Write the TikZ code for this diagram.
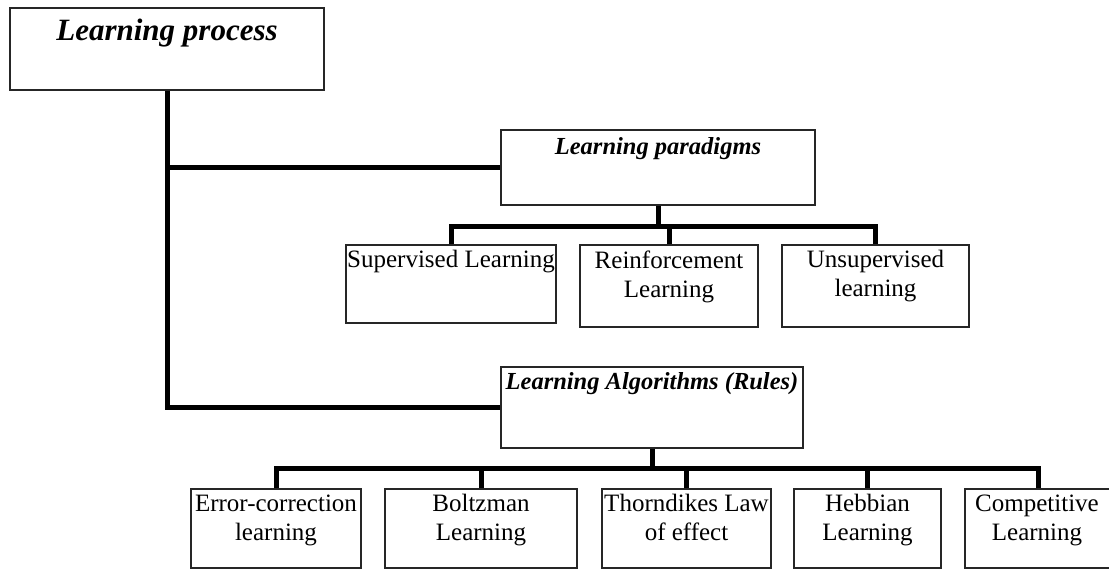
\documentclass[tikz,border=0pt]{standalone}
\usepackage{fontspec}
\setmainfont{Liberation Serif}
\begin{document}
\begin{tikzpicture}[x=1pt,y=-1pt,
  box/.style={draw=black!85, line width=1.5pt, inner sep=0pt, fill=white},
  link/.style={draw=black, line width=5pt},
  lbl/.style={anchor=north, inner sep=0pt, align=center,
    font=\fontsize{25}{29}\selectfont},
  head/.style={anchor=north, inner sep=0pt, align=center,
    font=\fontsize{24.5}{29}\selectfont\bfseries\itshape}]
\useasboundingbox (0,0) rectangle (1109,570);

% root
\node[box, minimum width=314pt, minimum height=82pt] (proc) at (167,49) {};
\node[head, font=\fontsize{31}{36}\selectfont\bfseries\itshape]
  (proct) at ([yshift=-12pt]proc.north) {Learning process};

% paradigms branch
\node[box, minimum width=314pt, minimum height=75pt] (para) at (658,167.5) {};
\node[head] (parat) at ([yshift=-8pt]para.north) {Learning paradigms};

\node[box, minimum width=210pt, minimum height=78pt] (sup) at (451,284) {};
\node[box, minimum width=178pt, minimum height=82pt] (rein) at (669,286) {};
\node[box, minimum width=187pt, minimum height=82pt] (unsup) at (875.5,286) {};
\node[lbl] (supt) at ([yshift=-6pt]sup.north) {Supervised Learning};
\node[lbl] (reint) at ([yshift=-6pt]rein.north) {Reinforcement\\Learning};
\node[lbl] (unsupt) at ([yshift=-6pt]unsup.north) {Unsupervised\\learning};

% algorithms branch
\node[box, minimum width=302pt, minimum height=81pt] (algo) at (652,407.5) {};
\node[head] (algot) at ([yshift=-6pt]algo.north) {Learning Algorithms (Rules)};

\node[box, minimum width=170pt, minimum height=79pt] (err) at (276,528.5) {};
\node[box, minimum width=192pt, minimum height=79pt] (boltz) at (481,528.5) {};
\node[box, minimum width=169pt, minimum height=79pt] (thorn) at (686.5,528.5) {};
\node[box, minimum width=147pt, minimum height=79pt] (hebb) at (867.5,528.5) {};
\node[box, minimum width=150pt, minimum height=79pt] (comp) at (1040,528.5) {};
\node[lbl] (errt) at ([yshift=-6pt]err.north) {Error-correction\\learning};
\node[lbl] (boltzt) at ([yshift=-6pt]boltz.north) {Boltzman\\Learning};
\node[lbl] (thornt) at ([yshift=-6pt]thorn.north) {Thorndikes Law\\of effect};
\node[lbl] (hebbt) at ([yshift=-6pt]hebb.north) {Hebbian\\Learning};
\node[lbl] (compt) at ([yshift=-6pt,xshift=-3pt]comp.north) {Competitive\\Learning};

% trunk from the root to both branches
\draw[link] (proc.south) |- (algo.west);
\draw[link] (proc.south |- para.west) -- (para.west);

% paradigms bus
\coordinate (pbus) at (658,226);
\draw[link] (para.south) -- (pbus);
\draw[link] (sup.north) |- (pbus);
\draw[link] (unsup.north) |- (pbus);
\draw[link] (rein.north) -- (rein.north |- pbus);

% algorithms bus
\coordinate (abus) at (652,468);
\coordinate (cdrop) at (1038,468);
\draw[link] (algo.south) -- (abus);
\draw[link] (err.north) |- (abus);
\draw[link] (comp.north -| cdrop) -- (cdrop) -- (abus);
\draw[link] (boltz.north) -- (boltz.north |- abus);
\draw[link] (thorn.north) -- (thorn.north |- abus);
\draw[link] (hebb.north) -- (hebb.north |- abus);
\end{tikzpicture}
\end{document}
